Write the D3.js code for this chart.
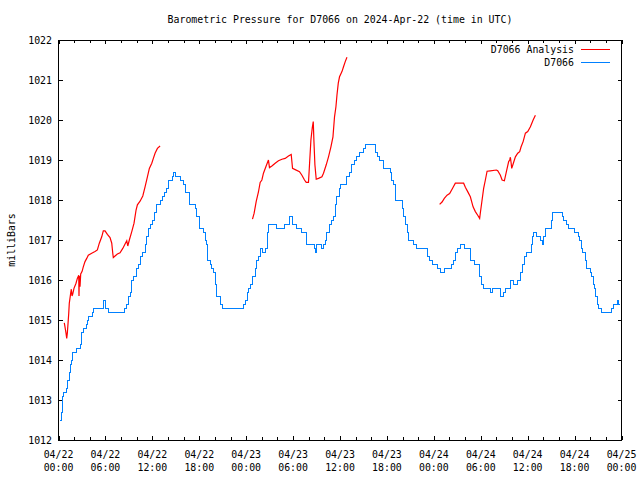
<!DOCTYPE html>
<html><head><meta charset="utf-8">
<script src="https://cdn.jsdelivr.net/npm/d3@7"></script>
<style>
body{margin:0;background:#fff}
text{font-family:"DejaVu Sans Mono",monospace;font-size:9.9px;fill:#000}
</style>
</head><body><svg id="c" width="640" height="480"></svg>
<script>
// ---- data (hours after 2024-04-22 00:00 UTC) ----
const stationHours=[0.23,0.32,0.45,0.70,0.96,1.18,1.38,1.54,1.66,1.77,2.24,2.75,2.92,3.26,3.52,3.69,3.87,4.33,4.45,5.73,5.99,6.43,8.38,8.64,8.90,9.15,9.32,9.54,9.92,10.27,10.52,10.69,11.07,11.20,11.46,11.71,12.06,12.22,12.48,12.99,13.25,13.50,13.76,14.05,14.53,14.69,14.91,15.64,15.97,16.19,16.74,17.47,17.69,18.02,18.53,18.75,18.97,19.10,19.39,19.61,19.81,20.03,20.16,20.67,20.97,23.65,23.87,24.17,24.29,24.60,24.86,25.15,25.37,25.63,25.79,26.05,26.43,26.73,26.85,27.93,28.86,29.54,29.89,30.49,31.13,31.77,32.70,32.92,33.05,33.64,33.89,34.11,34.33,34.66,34.97,35.17,35.39,35.61,35.90,36.12,36.89,37.18,37.53,37.82,38.17,38.50,39.01,39.23,40.51,40.81,41.06,41.57,42.43,42.65,42.85,43.07,43.16,43.93,44.13,44.35,44.57,44.77,45.41,45.76,47.21,47.46,47.77,48.49,48.83,49.34,50.24,50.53,50.75,51.05,51.39,51.87,52.67,53.18,53.86,54.04,54.30,55.23,55.45,56.51,56.93,57.15,57.79,58.21,58.73,59.07,59.29,59.58,59.84,60.44,60.65,60.77,61.12,61.63,61.85,62.05,62.27,63.00,63.13,64.41,64.54,64.96,65.18,66.02,66.53,66.66,66.84,67.01,67.39,67.52,68.03,68.16,68.38,68.54,68.67,68.89,69.09,69.40,70.68,70.94,71.45,71.62,71.78];
const stationValues=[1012.5,1012.7,1013.1,1013.2,1013.3,1013.5,1013.7,1013.9,1014.0,1014.2,1014.3,1014.4,1014.7,1014.8,1014.9,1015.0,1015.1,1015.2,1015.3,1015.5,1015.3,1015.2,1015.3,1015.4,1015.6,1015.7,1016.0,1016.1,1016.3,1016.4,1016.6,1016.7,1016.9,1017.1,1017.3,1017.4,1017.5,1017.7,1017.9,1018.0,1018.1,1018.2,1018.3,1018.5,1018.6,1018.7,1018.6,1018.5,1018.4,1018.2,1017.9,1017.8,1017.6,1017.3,1017.2,1017.0,1016.9,1016.5,1016.4,1016.3,1016.2,1015.9,1015.6,1015.4,1015.3,1015.4,1015.5,1015.7,1015.8,1015.9,1016.1,1016.3,1016.5,1016.6,1016.8,1016.7,1016.8,1017.2,1017.4,1017.3,1017.4,1017.6,1017.4,1017.3,1017.2,1016.9,1016.8,1016.7,1016.9,1016.8,1016.9,1017.0,1017.2,1017.4,1017.5,1017.6,1017.9,1018.1,1018.3,1018.4,1018.6,1018.7,1018.9,1019.0,1019.1,1019.2,1019.3,1019.4,1019.2,1019.1,1019.0,1018.8,1018.7,1018.5,1018.4,1018.3,1018.0,1017.8,1017.6,1017.4,1017.2,1017.0,1016.9,1016.8,1016.6,1016.5,1016.4,1016.3,1016.2,1016.3,1016.4,1016.5,1016.7,1016.8,1016.9,1016.8,1016.5,1016.4,1016.1,1015.9,1015.8,1015.7,1015.8,1015.6,1015.7,1015.8,1016.0,1015.9,1016.0,1016.2,1016.4,1016.6,1016.7,1016.9,1017.1,1017.2,1017.1,1017.0,1016.9,1017.1,1017.3,1017.5,1017.7,1017.6,1017.5,1017.4,1017.3,1017.2,1017.1,1017.0,1016.8,1016.7,1016.5,1016.3,1016.2,1016.1,1015.9,1015.8,1015.6,1015.4,1015.3,1015.2,1015.3,1015.4,1015.5,1015.4,1015.4];

// analysis: null separates the three runs
const analysisHours=[0.74,0.83,0.96,1.05,1.13,1.22,1.31,1.38,1.56,1.64,1.73,1.82,1.98,2.24,2.41,2.59,2.62,2.66,2.75,2.84,3.01,3.17,3.39,3.61,3.81,4.25,4.67,4.97,5.22,5.53,5.73,5.95,6.25,6.59,6.81,6.94,7.01,7.23,7.53,7.87,8.22,8.51,8.73,8.86,9.06,9.37,9.66,9.92,10.09,10.43,10.78,11.07,11.37,11.62,11.93,12.13,12.35,12.65,12.99,
 null,
 24.81,25.02,25.28,25.57,25.79,26.01,26.21,26.52,26.85,26.98,27.29,27.71,28.13,28.57,28.99,29.41,29.76,29.93,30.27,30.82,31.13,31.46,31.68,31.97,32.10,32.28,32.45,32.58,32.66,32.79,32.96,33.25,33.69,33.89,34.24,34.53,34.84,35.10,35.30,35.48,35.61,35.78,35.94,36.25,36.45,36.67,36.89,
 null,
 48.74,49.05,49.34,49.69,50.02,50.33,50.75,51.81,52.03,52.33,52.67,52.89,53.02,53.31,53.61,53.86,53.95,54.17,54.37,54.59,54.81,55.23,56.00,56.17,56.51,56.73,57.02,57.28,57.57,57.70,57.79,57.88,57.96,58.14,58.43,58.73,58.98,59.16,59.42,59.71,60.01,60.35,60.70,60.99];
const analysisValues=[1014.93,1014.83,1014.67,1014.54,1014.67,1014.92,1015.17,1015.42,1015.67,1015.77,1015.6,1015.65,1015.79,1015.92,1016.04,1016.12,1015.6,1016.1,1015.83,1016.15,1016.21,1016.33,1016.46,1016.54,1016.62,1016.67,1016.71,1016.75,1016.92,1017.08,1017.23,1017.23,1017.14,1017.06,1016.92,1016.67,1016.56,1016.6,1016.65,1016.68,1016.79,1016.9,1016.98,1016.85,1017.0,1017.21,1017.42,1017.75,1017.88,1017.97,1018.1,1018.33,1018.58,1018.79,1018.92,1019.04,1019.17,1019.29,1019.35,
 null,
 1017.52,1017.67,1017.96,1018.2,1018.44,1018.5,1018.67,1018.83,1019.0,1018.81,1018.85,1018.92,1018.98,1019.02,1019.04,1019.1,1019.14,1018.79,1018.76,1018.71,1018.62,1018.5,1018.44,1018.44,1018.88,1019.5,1019.8,1019.96,1019.5,1018.88,1018.52,1018.54,1018.58,1018.67,1018.88,1019.08,1019.33,1019.58,1020.08,1020.33,1020.62,1020.92,1021.08,1021.21,1021.33,1021.46,1021.57,
 null,
 1017.89,1017.95,1018.04,1018.12,1018.16,1018.27,1018.42,1018.42,1018.32,1018.21,1018.08,1017.92,1017.83,1017.71,1017.62,1017.54,1017.68,1018.0,1018.29,1018.5,1018.72,1018.73,1018.75,1018.73,1018.62,1018.5,1018.48,1018.71,1018.96,1019.0,1019.07,1018.93,1018.79,1018.9,1019.08,1019.17,1019.21,1019.33,1019.46,1019.67,1019.71,1019.83,1020.0,1020.12];

const yTickValues=[1012,1013,1014,1015,1016,1017,1018,1019,1020,1021,1022];
const seriesNames=["D7066 Analysis","D7066"];
const seriesColors=["#ff0000","#0080ff"];
const titleText="Barometric Pressure for D7066 on 2024-Apr-22 (time in UTC)";
const yLabel="milliBars";

// ---- layout ----
const L=58.5,R=621.5,T=40,B=440;
const t0=Date.UTC(2024,3,22), t1=Date.UTC(2024,3,25);
const toDate=h=>new Date(t0+h*3600e3);
const x=d3.scaleUtc().domain([new Date(t0),new Date(t1)]).range([L,R]);
const y=d3.scaleLinear().domain([1012,1022]).range([B,T]);
const svg=d3.select("#c");

// title
svg.append("text").attr("x",(L+R)/2).attr("y",23).attr("text-anchor","middle").text(titleText);
// y label
svg.append("text").attr("transform","translate(15,240) rotate(-90)").attr("text-anchor","middle").text(yLabel);

// axes (inward ticks)
const minorTicks=x.ticks(d3.utcHour.every(2));
const majorTicks=x.ticks(d3.utcHour.every(6));
const isMajor=d=>d.getUTCHours()%6===0;
function xAxis(g,gen){
  g.call(gen.tickValues(minorTicks).tickSizeOuter(0).tickFormat(""));
  g.select(".domain").remove();
  g.selectAll(".tick line").attr("stroke","#000").attr("shape-rendering","crispEdges");
}
svg.append("g").attr("transform",`translate(0,${B})`)
  .call(g=>xAxis(g,d3.axisBottom(x)))
  .selectAll(".tick line").attr("y2",d=>isMajor(d)?-4:-3);
svg.append("g").attr("transform",`translate(0,${T})`)
  .call(g=>xAxis(g,d3.axisTop(x)))
  .selectAll(".tick line").attr("y2",d=>isMajor(d)?4:3);
const yl=svg.append("g").attr("transform",`translate(${L},0)`)
  .call(d3.axisLeft(y).tickValues(yTickValues).tickSizeInner(-4).tickSizeOuter(0).tickPadding(6).tickFormat(d3.format("d")));
yl.select(".domain").remove();
yl.selectAll(".tick line").attr("stroke","#000").attr("shape-rendering","crispEdges");
yl.selectAll(".tick text").attr("font-family","DejaVu Sans Mono").attr("font-size","9.9px").attr("fill","#000").attr("x",-6.5);
const yr=svg.append("g").attr("transform",`translate(${R},0)`)
  .call(d3.axisRight(y).tickValues(yTickValues).tickSizeInner(-4).tickSizeOuter(0).tickFormat(""));
yr.select(".domain").remove();
yr.selectAll(".tick line").attr("stroke","#000").attr("shape-rendering","crispEdges");

// x labels (two lines)
const fmtD=d3.utcFormat("%m/%d"), fmtT=d3.utcFormat("%H:%M");
const xl=svg.append("g").selectAll("text").data(majorTicks).join("text")
  .attr("text-anchor","middle").attr("x",d=>x(d));
xl.append("tspan").attr("x",d=>x(d)).attr("y",458).text(d=>fmtD(d));
xl.append("tspan").attr("x",d=>x(d)).attr("y",471).text(d=>fmtT(d));

// frame
svg.append("rect").attr("x",L).attr("y",T).attr("width",R-L).attr("height",B-T)
  .attr("fill","none").attr("stroke","#000").attr("stroke-width",1).attr("shape-rendering","crispEdges");

// series
const station=stationHours.map((h,i)=>({t:toDate(h),v:stationValues[i]}));
const analysis=analysisHours.map((h,i)=>({t:h==null?null:toDate(h),v:analysisValues[i]}));
svg.append("path").datum(analysis)
  .attr("d",d3.line().defined(d=>d.v!=null).x(d=>x(d.t)).y(d=>y(d.v)))
  .attr("fill","none").attr("stroke",seriesColors[0]).attr("stroke-width",1.2);
svg.append("path").datum(station)
  .attr("d",d3.line().curve(d3.curveStepAfter).x(d=>x(d.t)).y(d=>y(d.v)))
  .attr("fill","none").attr("stroke",seriesColors[1]).attr("stroke-width",1).attr("shape-rendering","crispEdges");

// legend
const legY=[49.5,62];
seriesNames.forEach((n,i)=>{
  svg.append("text").attr("x",574).attr("y",legY[i]+3.5).attr("text-anchor","end").text(n);
  svg.append("line").attr("x1",581).attr("x2",609.5).attr("y1",legY[i]).attr("y2",legY[i])
    .attr("stroke",seriesColors[i]).attr("stroke-width",1).attr("shape-rendering","crispEdges");
});
</script></body></html>
